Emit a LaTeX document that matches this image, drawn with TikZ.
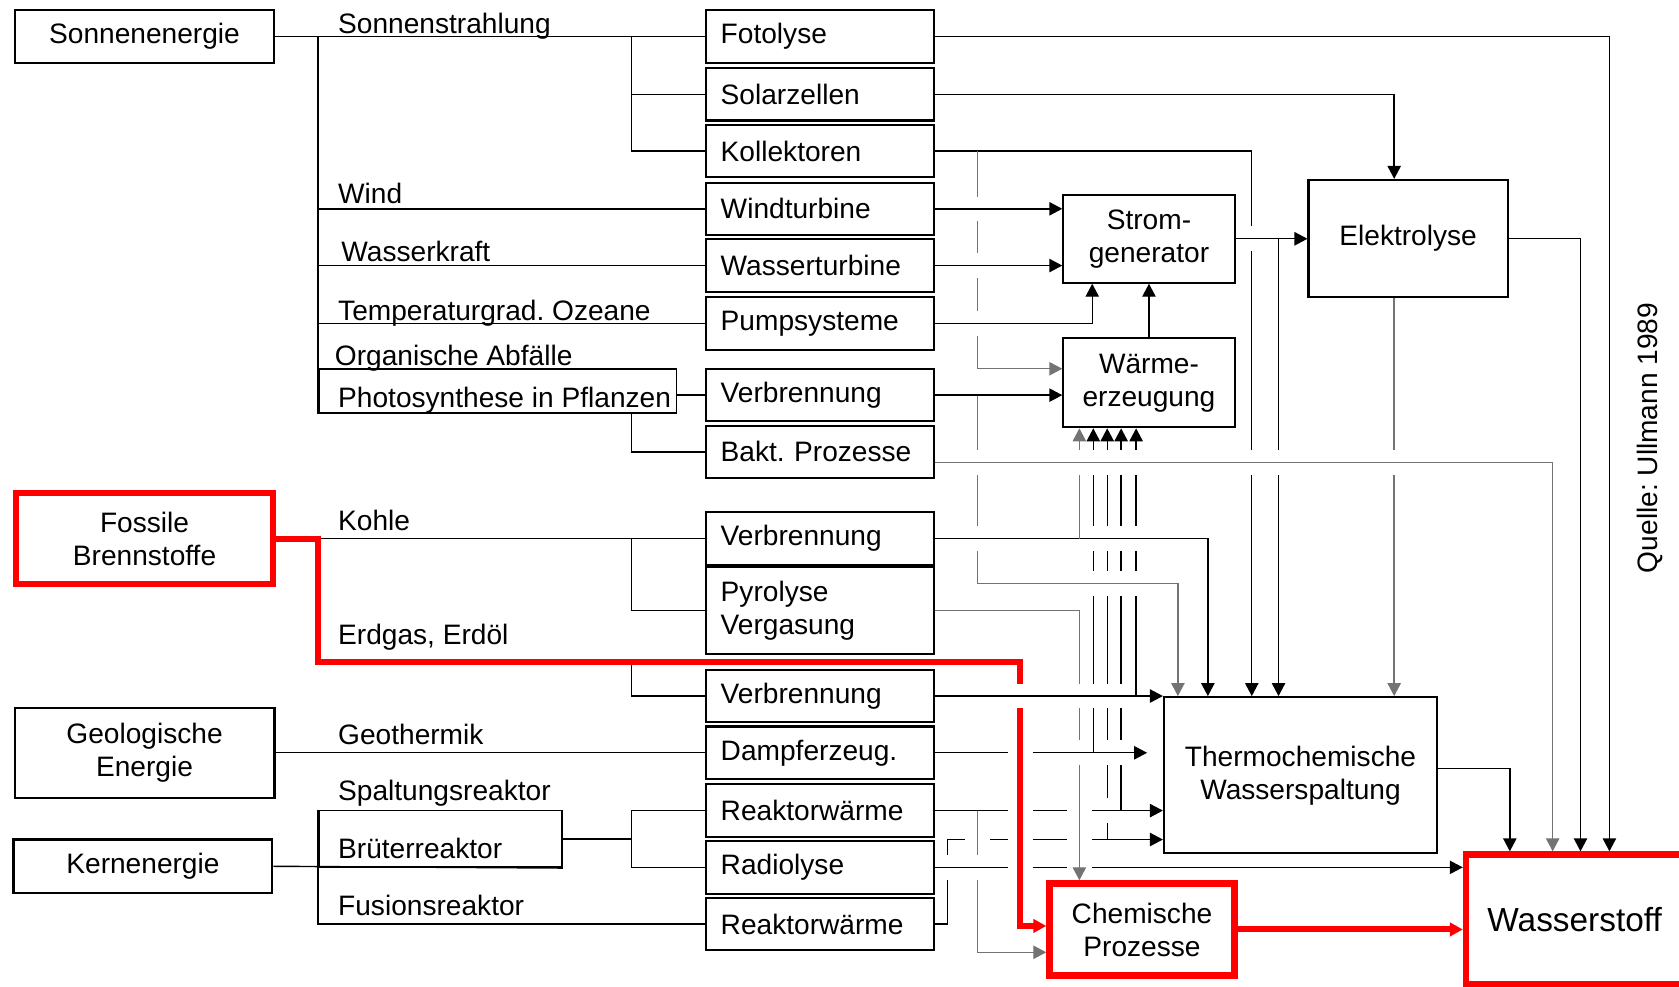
\documentclass[tikz,border=0pt]{standalone}
\usepackage{fontspec}
\setmainfont{Liberation Sans}
\usetikzlibrary{arrows.meta}
\pgfdeclarelayer{lines}
\pgfsetlayers{lines,main}
\frenchspacing

\begin{document}
\begin{tikzpicture}[x=0.010708cm, y=-0.010708cm, line width=0.5pt,
    font=\fontsize{8}{9.4}\selectfont,
    >={Triangle[length=3.7pt,width=3.8pt]},
    box/.style={draw, line width=0.6pt, minimum width=2.59cm, align=center},
    proc/.style={draw, line width=0.6pt, minimum width=2.281cm, minimum height=0.525cm, text width=1.98cm, align=left},
    unit/.style={draw, line width=0.6pt, align=center},
    hot/.style={draw=red, line width=1.8pt, align=center},
    lbl/.style={anchor=base west, inner sep=0pt},
    pale/.style={draw=black!55},
    redline/.style={draw=red, line width=1.7pt},
    bridge/.style={preaction={draw=white, line width=7pt, -, shorten <=1.5pt, shorten >=1.5pt}}]
    \useasboundingbox (0,0) rectangle (1568,921);

    % Energiequellen
    \node[box, minimum height=0.525cm] (sonne) at (135,34) {Sonnenenergie};
    \node[box, hot, minimum width=2.57cm, minimum height=0.91cm] (fossil) at (135,503) {Fossile\\Brennstoffe};
    \node[box, minimum width=2.6cm, minimum height=0.899cm] (geo) at (135,703) {Geologische\\Energie};
    \node[box, minimum height=0.535cm] (kern) at (133.5,809) {Kernenergie};

    % Verfahren
    \node[proc] (fotolyse) at (765.5,34) {Fotolyse};
    \node[proc] (solar) at (765.5,88) {Solarzellen};
    \node[proc] (kollekt) at (765.5,141) {Kollektoren};
    \node[proc] (windt) at (765.5,195) {Windturbine};
    \node[proc] (wassert) at (765.5,248) {Wasserturbine};
    \node[proc] (pump) at (765.5,302) {Pumpsysteme};
    \node[proc] (verbrO) at (765.5,369) {Verbrennung};
    \node[proc] (bakt) at (765.5,422) {Bakt. Prozesse};
    \node[proc] (verbrK) at (765.5,503) {Verbrennung};
    \node[proc, minimum height=0.867cm] (pyro) at (765.5,570) {Pyrolyse\\Vergasung};
    \node[proc] (verbrE) at (765.5,650) {Verbrennung};
    \node[proc] (dampf) at (765.5,703) {Dampferzeug.};
    \node[proc] (rw1) at (765.5,757) {Reaktorwärme};
    \node[proc] (radio) at (765.5,810) {Radiolyse};
    \node[proc] (rw2) at (765.5,863) {Reaktorwärme};

    % Umwandlung
    \node[unit, minimum width=1.713cm, minimum height=0.878cm] (strom) at (1073,223) {Strom-\\generator};
    \node[unit, minimum width=1.713cm, minimum height=0.889cm] (waerme) at (1073,357.5) {Wärme-\\erzeugung};
    \node[unit, minimum width=1.992cm, minimum height=1.167cm] (elektro) at (1315,222.5) {Elektrolyse};
    \node[unit, minimum width=2.731cm, minimum height=1.563cm] (thermo) at (1214.5,724) {Thermochemische\\Wasserspaltung};
    \node[hot, minimum width=1.852cm, minimum height=0.921cm] (chem) at (1066.5,868) {Chemische\\Prozesse};
    \node[hot, minimum width=2.174cm, minimum height=1.296cm, font=\fontsize{9.5}{11}\selectfont] (wasser) at (1470.5,858.5) {Wasserstoff};

    % Klammern
    \node[draw, anchor=north west, minimum width=3.577cm, minimum height=0.434cm, inner sep=0pt] (photo) at (297,344) {};
    \node[draw, anchor=north west, minimum width=2.431cm, minimum height=0.568cm, inner sep=0pt] (kernbox) at (297,756) {};

    \node[lbl] (lsonne) at (315,31) {Sonnenstrahlung};
    \node[lbl] (lwind) at (315,190.5) {Wind};
    \node[lbl] (lwasser) at (318,244.5) {Wasserkraft};
    \node[lbl] (locean) at (315,299) {Temperaturgrad. Ozeane};
    \node[lbl] (lorg) at (312,341) {Organische Abfälle};
    \node[lbl] (lphoto) at (315,381) {Photosynthese in Pflanzen};
    \node[lbl] (lkohle) at (315,495.5) {Kohle};
    \node[lbl] (lerdgas) at (315,601.5) {Erdgas, Erdöl};
    \node[lbl] (lgeo) at (315,695) {Geothermik};
    \node[lbl] (lspalt) at (315,748) {Spaltungsreaktor};
    \node[lbl] (lbrut) at (315,801.5) {Brüterreaktor};
    \node[lbl] (lfus) at (315,854.5) {Fusionsreaktor};
    \node[rotate=90] (quelle) at (1541,409) {Quelle: Ullmann 1989};

    % Leitungen
    \coordinate (trunk) at (297,0);
    \coordinate (fork) at (590,0);
    \coordinate (lanek) at (913,0);
    \coordinate (lanepump) at (1020,0);
    \coordinate (lanekohle) at (1128,0);
    \coordinate (lanekoll) at (1169,0);
    \coordinate (lanestrom) at (1194,0);
    \coordinate (laneel) at (1302,0);
    \coordinate (lanetw) at (1410,0);
    \coordinate (lanebakt) at (1450,0);
    \coordinate (laneelw) at (1476,0);
    \coordinate (lanefoto) at (1503,0);
    \coordinate (lanehot) at (1100,545);
    \coordinate (fusion) at (885,784);
    \coordinate (erdgas) at (297,618);
    \coordinate (redturn) at (953,618);
    \foreach \i/\x in {1/1008, 2/1021, 3/1034, 4/1047, 5/1061}
        \coordinate (heat\i) at (\x,0);

    \begin{pgfonlayer}{lines}
    % drawn from the bottom up: a bridge line cuts the ones drawn before it
    \draw[->] (rw2.east) -| (fusion) -- (fusion -| thermo.west);
    \draw[->] (heat3 |- fusion) -- (heat3 |- waerme.south);
    \draw[->, bridge] (rw1.east) -- (rw1.east -| thermo.west);
    \draw[->] (heat4 |- rw1.east) -- (heat4 |- waerme.south);
    \draw[->, pale, bridge] (lanek |- rw1.east) |- ([yshift=-6.5pt]chem.west);
    \draw[->, bridge] (radio.east) -- (radio.east -| wasser.west);
    \draw[->, pale, bridge] (pyro.east) -| (heat1 |- chem.north);
    \draw[->, bridge] (dampf.east) -- ([xshift=-4.5pt]dampf.east -| thermo.west);
    \draw[->] (heat2 |- dampf.east) -- (heat2 |- waerme.south);
    \draw[->, redline, bridge] (fossil.east) -| (erdgas) -- (redturn) |- ([yshift=1pt]chem.west);
    \draw[->, bridge] (verbrE.east) -- (verbrE.east -| thermo.west);
    \draw[->] (heat5 |- verbrE.east) -- (heat5 |- waerme.south);
    \draw[->, pale, bridge] (lanek |- verbrO.east) |- (lanehot) -- (lanehot |- thermo.north);
    \draw[->, bridge] (verbrK.east) -| (lanekohle |- thermo.north);
    \draw[->, pale] (heat1 |- verbrK.east) -- (heat1 |- waerme.south);
    \draw[->] (kollekt.east) -| (lanekoll |- thermo.north);
    \draw[->, pale] (lanek |- kollekt.east) |- ([yshift=4pt]waerme.west);
    \draw[->, pale] (laneel |- elektro.south) -- (laneel |- thermo.north);
    \draw[->] (verbrO.east) -- (verbrO.east -| waerme.west);
    \draw[->, bridge] (windt.east) -- (windt.east -| strom.west);
    \draw[->, bridge] (wassert.east) -- (wassert.east -| strom.west);
    \draw[->, bridge] (pump.east) -| (lanepump |- strom.south);
    \draw[->, bridge] (strom.east) -- (strom.east -| elektro.west);
    \draw[->] (lanestrom |- strom.east) -- (lanestrom |- thermo.north);
    \draw[->, pale, bridge] ([yshift=-3pt]bakt.east) -| (lanebakt |- wasser.north);
    \draw[->] (fotolyse.east) -| (lanefoto |- wasser.north);
    \draw[->] (solar.east) -| (laneel |- elektro.north);
    \draw[->] (waerme.north) -- (strom.south);
    \draw[->] (elektro.east) -| (laneelw |- wasser.north);
    \draw[->] ([yshift=2pt]thermo.east) -| (lanetw |- wasser.north);
    \draw[->, redline] (chem.east) -- (chem.east -| wasser.west);

    % linke Seite
    \draw (sonne.east) -- (fotolyse.west);
    \draw (trunk |- sonne.east) -- (trunk |- photo.south);
    \draw (fork |- sonne.east) |- (kollekt.west);
    \draw (fork |- solar.west) -- (solar.west);
    \draw (trunk |- windt.west) -- (windt.west);
    \draw (trunk |- wassert.west) -- (wassert.west);
    \draw (trunk |- pump.west) -- (pump.west);
    \draw (photo.east |- verbrO.west) -- (verbrO.west);
    \draw (fork |- photo.south) |- (bakt.west);
    \draw ([xshift=0.9pt]trunk |- verbrK.west) -- (verbrK.west);
    \draw (fork |- verbrK.west) |- (pyro.west);
    \draw ([yshift=-0.9pt]fork |- erdgas) |- (verbrE.west);
    \draw (geo.east) -- (dampf.west);
    \draw (kern.east) -- (kernbox.south east);
    \draw (kernbox.north west) |- (rw2.west);
    \draw (kernbox.east) -- (fork |- kernbox.east);
    \draw (rw1.west) -| (fork |- radio.west) -- (radio.west);
    \end{pgfonlayer}
\end{tikzpicture}
\end{document}
